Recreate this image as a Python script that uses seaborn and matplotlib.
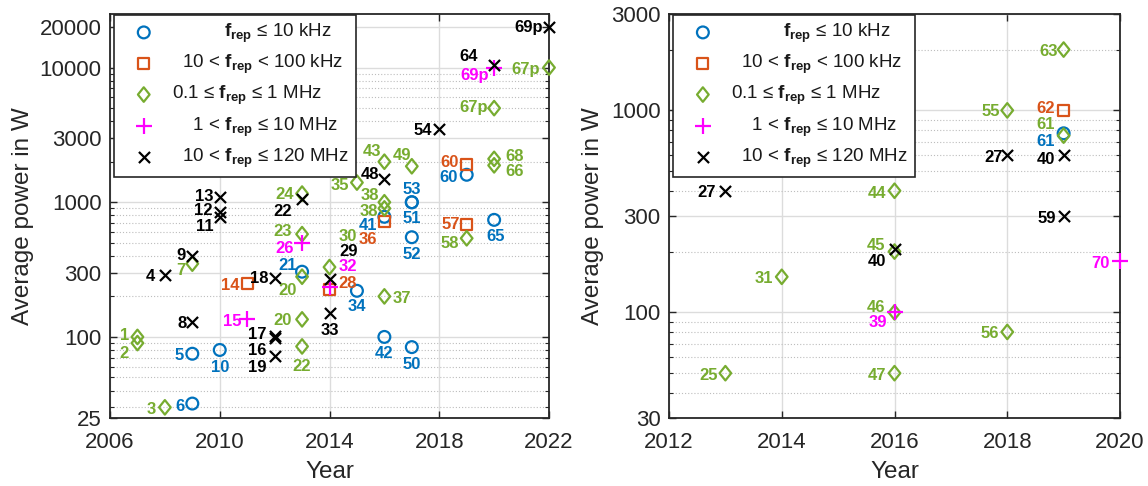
import numpy as np
import pandas as pd
import matplotlib
matplotlib.use("Agg")
import matplotlib.pyplot as plt
import seaborn as sns
from matplotlib.path import Path
from matplotlib.ticker import FixedLocator, FixedFormatter, LogLocator, NullFormatter

# ---------------------------------------------------------------- data
# repetition-rate classes: 0 circle, 1 square, 2 diamond, 3 plus, 4 cross
class_names = [
    "          $\\mathbf{f}_{\\mathbf{rep}}$ ≤ 10 kHz",
    "  10 < $\\mathbf{f}_{\\mathbf{rep}}$ < 100 kHz",
    "0.1 ≤ $\\mathbf{f}_{\\mathbf{rep}}$ ≤ 1 MHz",
    "    1 < $\\mathbf{f}_{\\mathbf{rep}}$ ≤ 10 MHz",
    "  10 < $\\mathbf{f}_{\\mathbf{rep}}$ ≤ 120 MHz",
]

left_year = [2007, 2007, 2008, 2008, 2009, 2009, 2009, 2009, 2009, 2010,
             2010, 2010, 2010, 2011, 2011, 2012, 2012, 2012, 2012, 2013,
             2013, 2013, 2013, 2013, 2013, 2013, 2013, 2014, 2014, 2014,
             2014, 2014, 2015, 2015, 2016, 2016, 2016, 2016, 2016, 2016,
             2016, 2016, 2017, 2017, 2017, 2017, 2017, 2018, 2019, 2019,
             2019, 2019, 2020, 2020, 2020, 2020, 2020, 2020, 2022, 2022]
left_power = [100, 90, 30, 290, 75, 32, 350, 130, 400, 80,
              780, 850, 1100, 250, 135, 99, 102, 275, 72, 280,
              305, 135, 85, 1050, 580, 1160, 500, 330, 270, 235,
              225, 150, 220, 1400, 715, 200, 1000, 900, 780, 100,
              2000, 1500, 1850, 84, 1000, 550, 1000, 3500, 680, 540,
              1900, 1600, 10500, 740, 1880, 5000, 2100, 10000, 10000, 20000]
left_class = [2, 2, 2, 4, 0, 0, 2, 4, 4, 0,
              4, 4, 4, 1, 3, 4, 4, 4, 4, 2,
              0, 2, 2, 4, 2, 2, 3, 2, 4, 3,
              1, 4, 0, 2, 1, 2, 2, 2, 0, 0,
              2, 4, 2, 0, 0, 0, 0, 4, 1, 2,
              1, 0, 4, 0, 2, 2, 2, 3, 2, 4]
left_label = ["1", "2", "3", "4", "5", "6", "7", "8", "9", "10",
              "11", "12", "13", "14", "15", "16", "17", "18", "19", "20",
              "21", "20", "22", "22", "23", "24", "26", "30", "29", "32",
              "28", "33", "34", "35", "36", "37", "38", "38", "41", "42",
              "43", "48", "49", "50", "51", "52", "53", "54", "57", "58",
              "60", "60", "64", "65", "66", "67p", "68", "69p", "67p", "69p"]

right_year = [2013, 2013, 2014, 2016, 2016, 2016, 2016, 2016, 2016, 2018,
              2018, 2018, 2019, 2019, 2019, 2019, 2019, 2019, 2020]
right_power = [50, 400, 150, 100, 205, 400, 200, 100, 50, 600,
               1000, 80, 600, 300, 770, 750, 1000, 2000, 180]
right_class = [2, 4, 2, 3, 4, 2, 2, 2, 2, 4,
               2, 2, 4, 4, 0, 2, 1, 2, 3]
right_label = ["25", "27", "31", "39", "40", "44", "45", "46", "47", "27",
               "55", "56", "40", "59", "61", "61", "62", "63", "70"]

# label placement next to each marker (pixels: right, down)
left_label_shift = [(-12.7, -2.7), (-13.4, 9), (-14, 0.6), (-14, 0), (-13.4, 0),
                    (-12.7, 1), (-11, 5), (-10, 0), (-11, -2.3), (0, 16),
                    (-15, 8.3), (-16.7, -2.4), (-15, -1.7), (-16.7, 1), (-15, 0.7),
                    (-17.7, 11.3), (-17.7, -2.7), (-15.7, -1), (-17.7, 10), (-14.4, 12.6),
                    (-14.4, -7.7), (-19.4, 0), (0, 18.3), (-19, 10.3), (-19, -4),
                    (-17.3, -1), (-17.3, 4.3), (18.3, -32.3), (19, -29.3), (18.3, -22.3),
                    (18.3, -7.6), (0, 15.7), (0, 14), (-16.7, 1.6), (-16.7, 16.6),
                    (17.7, 1), (-14.3, -8.3), (-16, 1.6), (-16.7, 7.6), (0, 15),
                    (-12.3, -11.4), (-14.3, -5.6), (-10, -12.7), (0, 16), (0, 15),
                    (0, 16), (0, -14.3), (-16, 0), (-16, -1.7), (-16.7, 3.4),
                    (-16.7, -4), (-17.7, 1.7), (-26, -9.3), (1.7, 15), (20, 4.3),
                    (-20.6, -1.7), (20, -4.3), (-19, 6), (-23.3, 0), (-20, -1)]
right_label_shift = [(-16.7, 0.7), (-19, 0.7), (-17.4, 0), (-17, 9), (-17.6, 11),
                     (-17, 1.7), (-18.3, -7.4), (-18.3, -6.7), (-17.6, 0.7), (-14, 0.7),
                     (-16.7, 0), (-17, 0), (-17.6, 3.3), (-16.6, 0.7), (-17.6, 6.7),
                     (-17.6, -12.7), (-18.3, -3), (-15, 0), (-20, 0.7)]

left_xticks = [2006, 2010, 2014, 2018, 2022]
left_yticks = [25, 100, 300, 1000, 3000, 10000, 20000]
right_xticks = [2012, 2014, 2016, 2018, 2020]
right_yticks = [30, 100, 300, 1000, 3000]

# ---------------------------------------------------------------- style
sns.set_theme(style="ticks")
plt.rcParams["font.family"] = ["Liberation Sans", "DejaVu Sans"]
plt.rcParams["mathtext.fontset"] = "custom"
plt.rcParams["mathtext.rm"] = "Liberation Sans"
plt.rcParams["mathtext.bf"] = "Liberation Sans:bold"
plt.rcParams["mathtext.it"] = "Liberation Sans:italic"

class_colors = ["#0072BD", "#D95319", "#77AC30", "#FF00FF", "#000000"]
diamond = Path([(0, 1), (0.8, 0), (0, -1), (-0.8, 0), (0, 1)],
               [Path.MOVETO, Path.LINETO, Path.LINETO, Path.LINETO, Path.CLOSEPOLY])
class_markers = ["o", "s", diamond, "+", "x"]
class_sizes = [8.5, 8.0, 10.5, 11.0, 8.0]
dark = "#262626"


def draw_panel(ax, years, powers, classes, labels, shifts, xlim, ylim, xticks, yticks):
    df = pd.DataFrame({"year": years, "power": powers, "cls": classes, "label": labels})
    ax.set_yscale("log")
    for k in range(5):
        sub = df[df["cls"] == k]
        kw = dict(marker=class_markers[k], s=class_sizes[k] ** 2, linewidth=1.6,
                  color=class_colors[k], zorder=3, label=class_names[k], clip_on=False)
        if k < 3:
            kw.update(facecolors="none", edgecolor=class_colors[k])
        sns.scatterplot(data=sub, x="year", y="power", ax=ax, legend=False, **kw)

    for (_, r), (dx, dy) in zip(df.iterrows(), shifts):
        ax.annotate(r["label"], (r["year"], r["power"]), xytext=(dx, -dy),
                    textcoords="offset pixels", ha="center", va="center_baseline",
                    color=class_colors[r["cls"]], fontsize=12, fontweight="bold",
                    zorder=4, annotation_clip=False)

    ax.set_xlim(*xlim)
    ax.set_ylim(*ylim)
    ax.set_xticks(xticks)
    ax.set_xticklabels([str(t) for t in xticks])
    ax.yaxis.set_major_locator(FixedLocator(yticks))
    ax.yaxis.set_major_formatter(FixedFormatter([str(t) for t in yticks]))
    ax.yaxis.set_minor_locator(LogLocator(base=10, subs=np.arange(2, 10), numticks=30))
    ax.yaxis.set_minor_formatter(NullFormatter())

    ax.set_axisbelow(True)
    ax.grid(True, which="major", color="#dcdcdc", linewidth=1.0, linestyle="-")
    ax.grid(True, which="minor", axis="y", color="#bdbdbd", linewidth=0.8,
            linestyle=(0, (1, 1.8)))
    ax.tick_params(which="both", direction="in", top=True, right=True,
                   labelsize=16, colors=dark, labelcolor=dark)
    ax.tick_params(which="major", length=5, width=1.0)
    ax.tick_params(which="minor", length=3, width=0.8)
    ax.tick_params(axis="x", pad=10)
    ax.tick_params(axis="y", pad=6)
    for sp in ax.spines.values():
        sp.set_visible(True)
        sp.set_color(dark)
        sp.set_linewidth(1.3)

    ax.set_xlabel("Year", fontsize=17.5, color=dark)
    ax.set_ylabel("Average power in W", fontsize=17.5, color=dark)
    ax.xaxis.label.set_va("center")
    ax.yaxis.label.set_va("center")

    leg = ax.legend(loc="upper left", bbox_to_anchor=(0.009, 0.9975), borderaxespad=0,
                    fontsize=13.5, frameon=True, fancybox=False, edgecolor=dark,
                    framealpha=1, borderpad=0.38, handlelength=2.42, handletextpad=0.28,
                    labelspacing=0.42)
    leg.get_frame().set_linewidth(1.2)
    for t in leg.get_texts():
        t.set_color("#1a1a1a")
    return ax


fig = plt.figure(figsize=(11.48, 4.86), dpi=100)
ax_left = fig.add_axes([110 / 1148, 1 - 418 / 486, 439 / 1148, 404 / 486])
ax_right = fig.add_axes([669 / 1148, 1 - 418 / 486, 451 / 1148, 404 / 486])

draw_panel(ax_left, left_year, left_power, left_class, left_label, left_label_shift,
           (2006, 2022), (25, 25000), left_xticks, left_yticks)
draw_panel(ax_right, right_year, right_power, right_class, right_label, right_label_shift,
           (2012, 2020), (30, 3000), right_xticks, right_yticks)

ax_left.xaxis.set_label_coords(0.5, -0.133)
ax_left.yaxis.set_label_coords(-0.199, 0.5)
ax_right.xaxis.set_label_coords(0.5, -0.133)
ax_right.yaxis.set_label_coords(-0.1685, 0.5)

fig.savefig("out.png", dpi=100, facecolor="white")
